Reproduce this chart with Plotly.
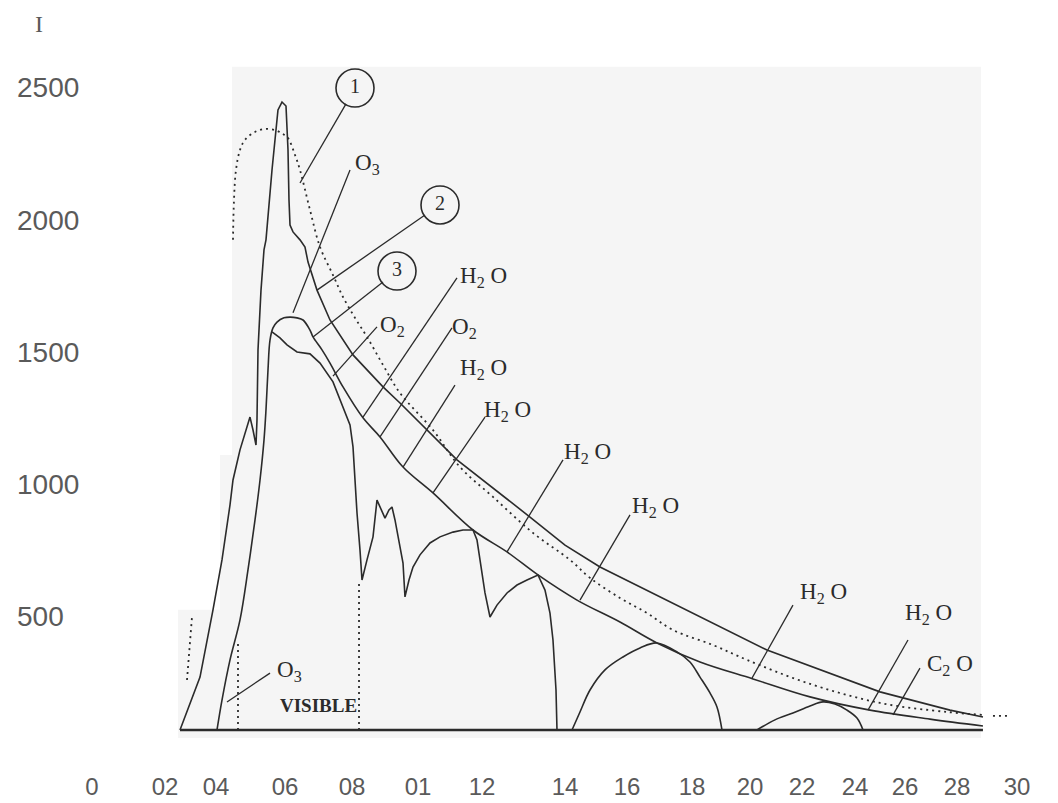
import plotly.graph_objects as go

# ---------------- axis ticks ----------------
x_tick_vals = [0.0, 0.2368, 0.4022, 0.6260, 0.8432, 1.0573, 1.2649, 1.5341, 1.7351,
               1.9460, 2.1341, 2.3027, 2.4746, 2.6368, 2.8054, 3.0]
x_tick_text = ["0", "02", "04", "06", "08", "01", "12", "14", "16", "18", "20",
               "22", "24", "26", "28", "30"]
y_tick_vals = [500, 1000, 1500, 2000, 2500]
y_tick_text = ["500", "1000", "1500", "2000", "2500"]

# ---------------- curves (wavelength, intensity) ----------------
base_x = [0.2854, 2.8897]
base_y = [72, 72]

# curve 2 : rising edge, spike and upper band line
c2_x = [0.2854, 0.3503, 0.3924, 0.4216, 0.4476, 0.4573, 0.4800, 0.5124, 0.5222, 0.5319,
        0.5351, 0.5355, 0.5384, 0.5481, 0.5578, 0.5643, 0.5838, 0.6032, 0.6162, 0.6292,
        0.6357, 0.6389, 0.6422, 0.6519, 0.6746, 0.6908, 0.7006, 0.7297, 0.7719, 0.8465,
        0.9438, 0.9989, 1.0865, 1.1838, 1.4206, 1.5341, 1.6476, 1.9070, 2.1892, 2.5557,
        2.7827, 2.8897]
c2_y = [72, 272, 526, 715, 923, 1017, 1131, 1255, 1206, 1149,
        1244, 1320, 1509, 1735, 1887, 1925, 2189, 2416, 2446, 2431,
        2265, 2076, 1981, 1955, 1925, 1898, 1841, 1735, 1622, 1490,
        1369, 1308, 1206, 1093, 877, 771, 688, 537, 374, 216,
        147, 121]

# curve 1 : dotted black body (visible pieces)
c1a_x = [0.3081, 0.3243]
c1a_y = [261, 499]
c1b_x = [0.4573, 0.4605, 0.4670, 0.4800, 0.4962, 0.5287, 0.5611, 0.5935, 0.6195, 0.6357,
         0.6584, 0.6746, 0.7070, 0.7395, 0.7816, 0.8141, 0.8530, 0.8919, 0.9438, 0.9989,
         1.1059, 1.1935, 1.3006, 1.4303, 1.5503, 1.6152, 1.7124, 1.8000, 1.8843, 2.0141,
         2.1243, 2.3189, 2.5557, 2.7730, 2.8897]
c1b_y = [1925, 2076, 2189, 2265, 2303, 2333, 2344, 2340, 2325, 2310,
         2246, 2189, 2038, 1898, 1792, 1709, 1630, 1558, 1452, 1346,
         1206, 1066, 953, 817, 715, 647, 571, 514, 450, 393,
         337, 250, 174, 140, 129]
c1c_x = [2.9222, 2.9773]
c1c_y = [125, 125]

# curve 3 : rising edge, plateau and lower band line
c3_x = [0.4054, 0.4216, 0.4476, 0.4800, 0.5059, 0.5287, 0.5449, 0.5578, 0.5643, 0.5708,
        0.5773, 0.5870, 0.6000, 0.6227, 0.6422, 0.6649, 0.6843, 0.7070, 0.7168, 0.7460,
        0.7719, 0.8141, 0.8789, 0.9341, 1.0087, 1.1059, 1.2357, 1.3460, 1.4465, 1.5730,
        1.7124, 1.8324, 1.9719, 2.1438, 2.3287, 2.5233, 2.7179, 2.8897]
c3_y = [72, 185, 337, 488, 677, 866, 1017, 1168, 1282, 1433,
        1546, 1592, 1614, 1630, 1633, 1630, 1622, 1584, 1558, 1509,
        1459, 1369, 1252, 1180, 1066, 968, 828, 745, 658, 563,
        480, 401, 329, 265, 197, 147, 113, 87]

# ground-level spectrum with absorption bands
ab_x = [0.5838, 0.6097, 0.6324, 0.6649, 0.7070, 0.7395, 0.7816, 0.8141, 0.8368, 0.8465,
        0.8530, 0.8595, 0.8692, 0.8757, 0.8919, 0.9114, 0.9243, 0.9373, 0.9503, 0.9632,
        0.9730, 0.9827, 0.9924, 1.0087, 1.0151, 1.0281, 1.0411, 1.0638, 1.0962, 1.1287,
        1.1708, 1.2032, 1.2357, 1.2487, 1.2584, 1.2746, 1.2908, 1.3135, 1.3460, 1.3784,
        1.4108, 1.4465, 1.4692, 1.4854, 1.4951, 1.5049, 1.5081]
ab_y = [1577, 1554, 1528, 1501, 1494, 1459, 1388, 1289, 1225, 1142,
        1017, 892, 752, 639, 715, 802, 941, 904, 873, 904,
        915, 866, 802, 703, 575, 639, 688, 734, 779, 802,
        820, 828, 828, 790, 715, 590, 499, 544, 590, 620,
        639, 658, 601, 514, 412, 223, 72]

arc3_x = [1.5568, 1.5827, 1.6152, 1.6638, 1.7222, 1.7773, 1.8324, 1.8973, 1.9394, 1.9719,
          2.0043, 2.0270, 2.0432]
arc3_y = [72, 140, 223, 299, 348, 382, 401, 367, 329, 272, 212, 159, 72]

arc4_x = [2.1568, 2.2151, 2.2735, 2.3287, 2.3708, 2.4098, 2.4487, 2.4811, 2.5006]
arc4_y = [72, 110, 136, 163, 178, 170, 147, 117, 72]

# visible-range markers
vis_x = [0.4735, 0.8660]
vis_top = [412, 639]

# ---------------- labels ----------------
circ_x = [0.8530, 1.1287, 0.9892]
circ_y = [2499, 2057, 1807]
circ_txt = ["1", "2", "3"]

lead_x0 = [0.8238, 1.0800, 0.9438, 0.8368, 0.9243, 1.1838, 1.1676, 1.1773, 1.2746, 1.5276,
           1.7449, 2.2735, 2.6465, 2.6854, 0.5773]
lead_y0 = [2439, 2019, 1766, 2189, 1596, 1781, 1592, 1376, 1255, 1093,
           885, 544, 412, 306, 287]
lead_x1 = [0.6746, 0.7297, 0.7168, 0.6519, 0.7816, 0.8789, 0.9341, 1.0087, 1.1059, 1.3460,
           1.5827, 2.1406, 2.5168, 2.5979, 0.4378]
lead_y1 = [2140, 1735, 1558, 1649, 1410, 1255, 1180, 1066, 968, 745,
           563, 268, 147, 129, 178]

lab_txt = ["O<sub>3</sub>", "O<sub>2</sub>", "H<sub>2</sub> O", "O<sub>2</sub>",
           "H<sub>2</sub> O", "H<sub>2</sub> O", "H<sub>2</sub> O", "H<sub>2</sub> O",
           "H<sub>2</sub> O", "H<sub>2</sub> O", "C<sub>2</sub> O", "O<sub>3</sub>"]
lab_x = [0.8465, 0.9276, 1.1870, 1.1611, 1.1870, 1.2649, 1.5243, 1.7449, 2.2898, 2.6303,
         2.7017, 0.5935]
lab_y = [2212, 1599, 1785, 1592, 1437, 1278, 1119, 915, 590, 510, 318, 295]

vis_label = "VISIBLE"
vis_label_x, vis_label_y = 0.7362, 166

axis_title = "I"
axis_title_y = 2741

# ---------------- figure ----------------
INK = "#2b2b2b"
fig = go.Figure()

def line(x, y, width=1.6, dash="solid", shape="linear"):
    fig.add_trace(go.Scatter(x=x, y=y, mode="lines", hoverinfo="skip", showlegend=False,
                             line=dict(color=INK, width=width, dash=dash, shape=shape)))

line(c1a_x, c1a_y, 1.8, "2px,4px")
line(c1b_x, c1b_y, 1.8, "2px,4px", "spline")
line(c1c_x, c1c_y, 1.8, "2px,4px")
line(c2_x, c2_y, 1.6)
line(c3_x, c3_y, 1.6, shape="spline")
line(ab_x, ab_y, 1.6)
line(arc3_x, arc3_y, 1.6, shape="spline")
line(arc4_x, arc4_y, 1.6, shape="spline")
for vx, vt in zip(vis_x, vis_top):
    line([vx, vx], [base_y[0], vt], 1.8, "2px,4px")
line(base_x, base_y, 2.6)

# leader lines
lx, ly = [], []
for a, b, c, d in zip(lead_x0, lead_y0, lead_x1, lead_y1):
    lx += [a, c, None]
    ly += [b, d, None]
fig.add_trace(go.Scatter(x=lx, y=ly, mode="lines", hoverinfo="skip", showlegend=False,
                         line=dict(color=INK, width=1.3)))

# numbered circles
fig.add_trace(go.Scatter(x=circ_x, y=circ_y, mode="markers+text", text=circ_txt,
                         textposition="middle center", hoverinfo="skip", showlegend=False,
                         textfont=dict(family="Liberation Serif", size=20, color=INK),
                         marker=dict(symbol="circle-open", size=38, color=INK,
                                     line=dict(width=1.6, color=INK))))

for t, x, y in zip(lab_txt, lab_x, lab_y):
    fig.add_annotation(x=x, y=y, text=t, showarrow=False, xanchor="left", yanchor="middle",
                       font=dict(family="Liberation Serif", size=23, color=INK))

fig.add_annotation(x=vis_label_x, y=vis_label_y, text="<b>" + vis_label + "</b>",
                   showarrow=False,
                   font=dict(family="Liberation Serif", size=19, color=INK))

# y tick labels (left aligned as in the scan)
for v, t in zip(y_tick_vals, y_tick_text):
    fig.add_annotation(x=-0.046, xref="paper", y=v, yref="y", text=t, showarrow=False,
                       xanchor="left", yanchor="middle",
                       font=dict(family="Liberation Sans", size=28, color="#5a5a5a"))
fig.add_annotation(x=-0.028, xref="paper", y=axis_title_y, yref="y", text=axis_title,
                   showarrow=False,
                   font=dict(family="Liberation Serif", size=24, color="#5a5a5a"))

# light grey scanned panel (stepped on the left)
PANEL = "#f5f5f5"
fig.add_shape(type="rect", x0=0.4541, x1=2.8832, y0=42, y1=2579, fillcolor=PANEL,
              line_width=0, layer="below")
fig.add_shape(type="rect", x0=0.4151, x1=0.4600, y0=42, y1=1112, fillcolor=PANEL,
              line_width=0, layer="below")
fig.add_shape(type="rect", x0=0.2789, x1=0.4200, y0=42, y1=526, fillcolor=PANEL,
              line_width=0, layer="below")

# the page adds an 8px body margin, so the figure is 8px smaller and shifted back
fig.update_layout(
    width=1050, height=795,
    margin=dict(l=52, r=20, t=2, b=33),
    paper_bgcolor="white", plot_bgcolor="white",
    xaxis=dict(range=[-0.1038, 3.0682], tickvals=x_tick_vals, ticktext=x_tick_text,
               showgrid=False, zeroline=False, showline=False, ticks="",
               tickfont=dict(family="Liberation Sans", size=24, color="#5a5a5a")),
    yaxis=dict(range=[-79.4, 2794], showgrid=False, zeroline=False, showline=False,
               showticklabels=False, ticks=""),
)

fig.write_html("out.html")
